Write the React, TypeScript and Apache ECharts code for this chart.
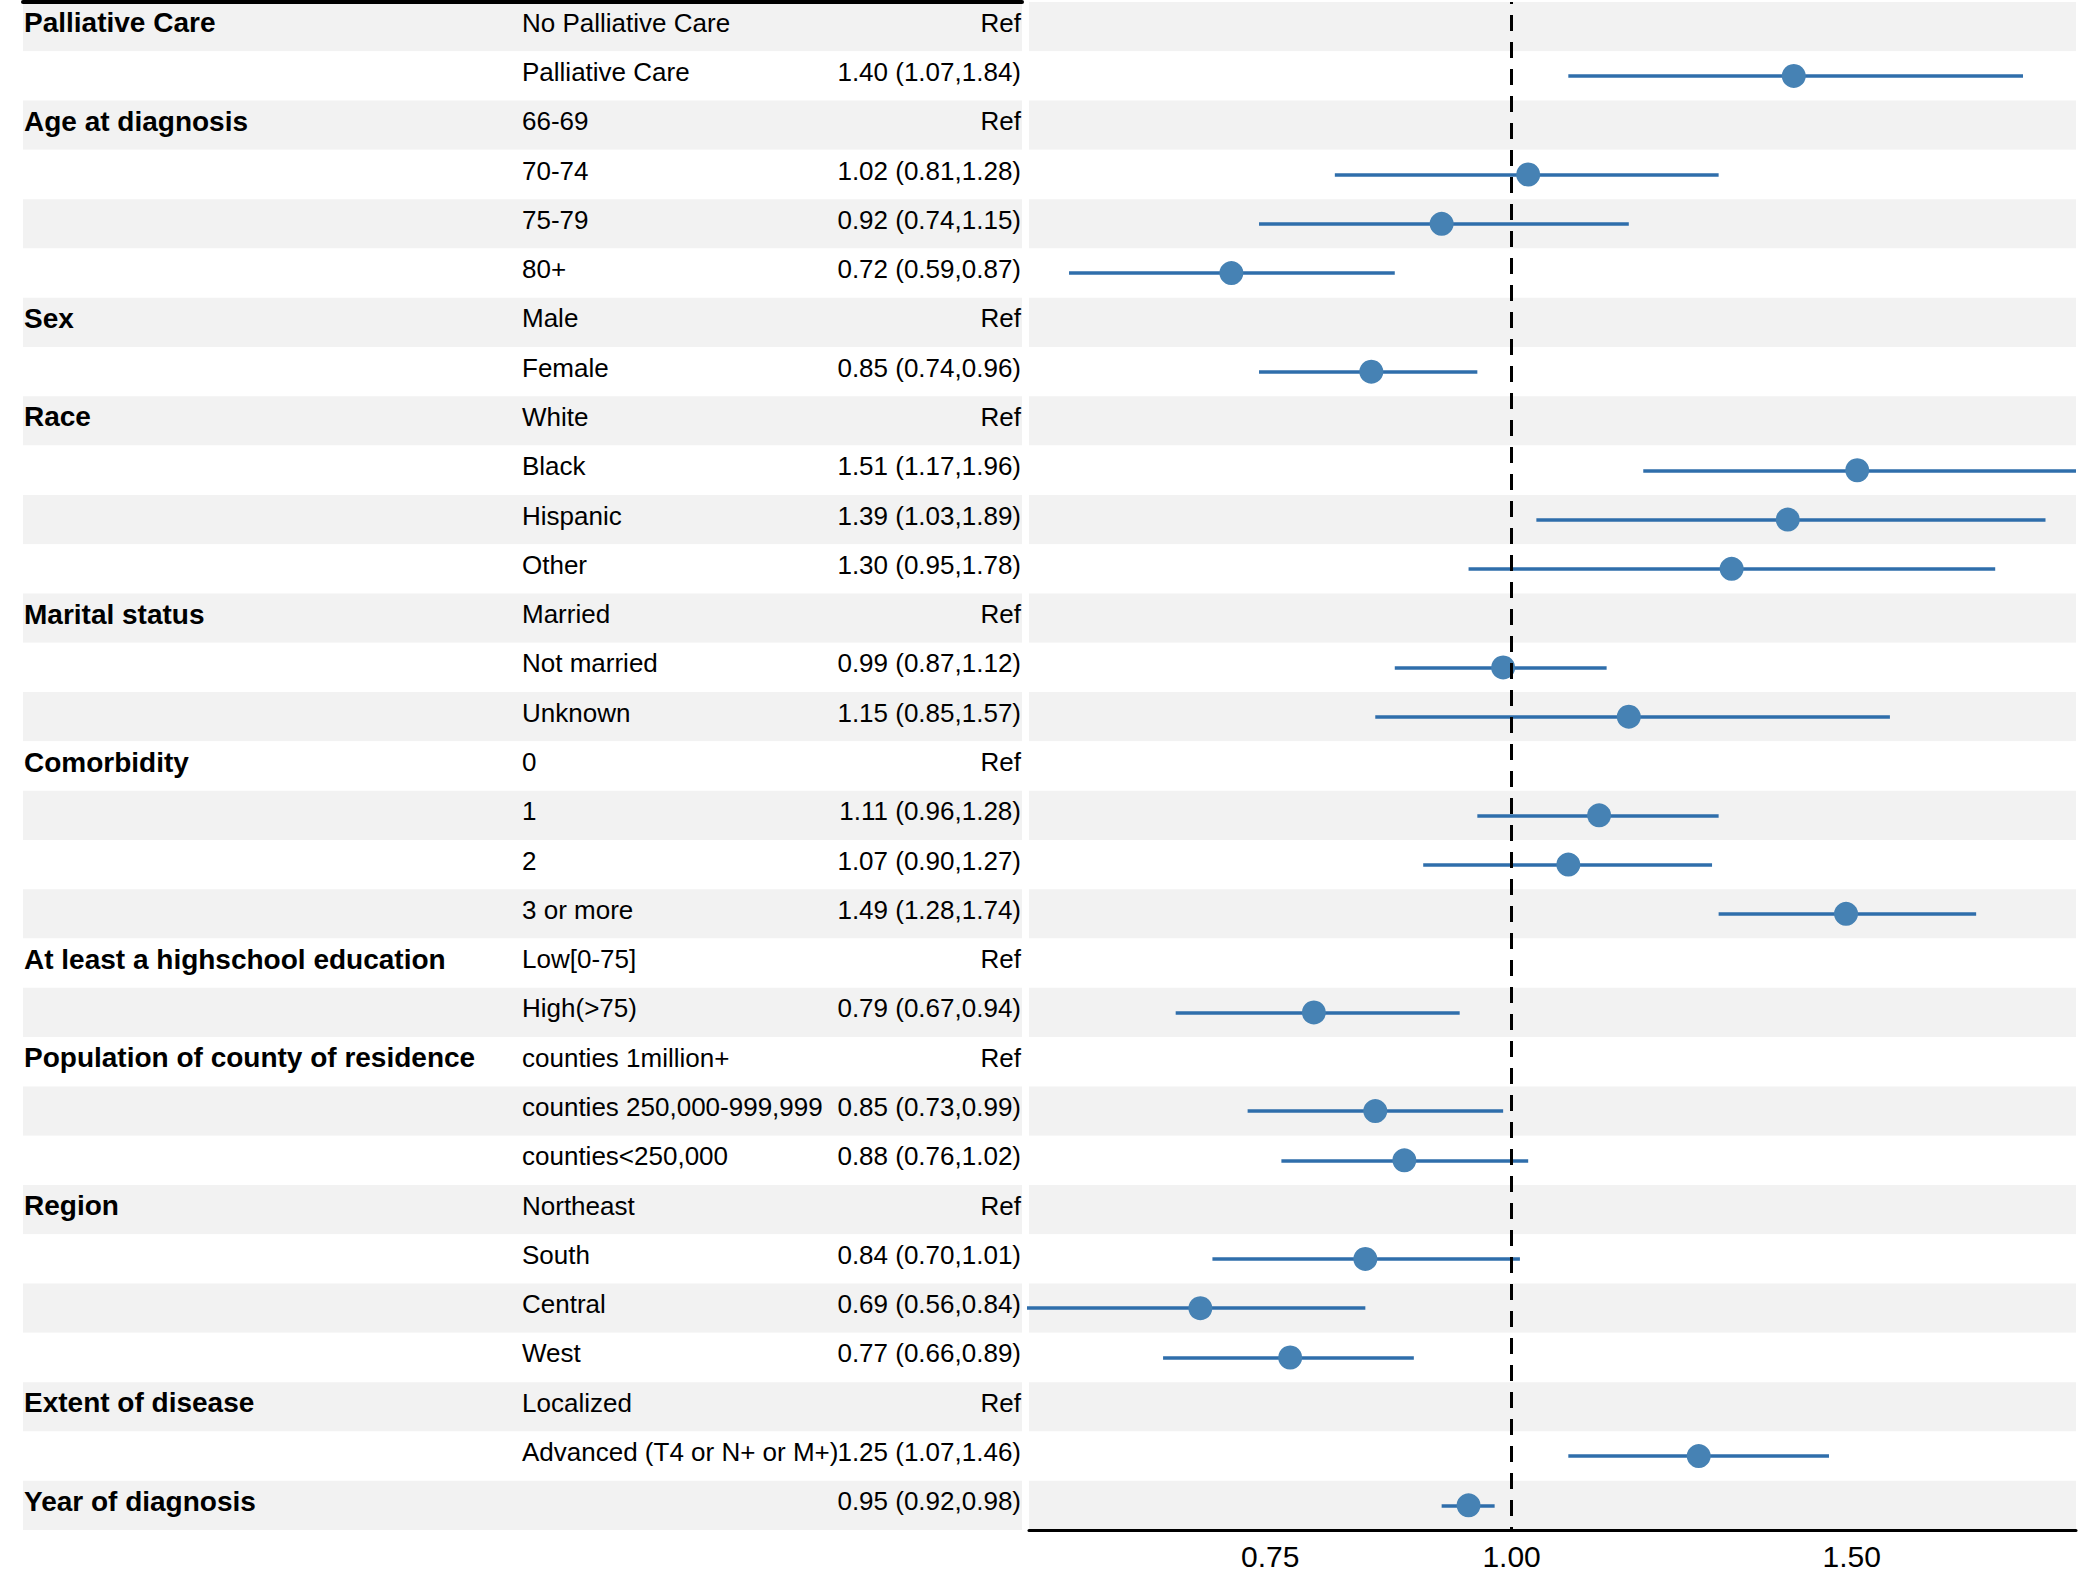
import React, { useEffect, useRef } from 'react';
import * as echarts from 'echarts';

// ---- Data (rows top to bottom) ----
const groupLabels: string[] = [
  'Palliative Care', '',
  'Age at diagnosis', '', '', '',
  'Sex', '',
  'Race', '', '', '',
  'Marital status', '', '',
  'Comorbidity', '', '', '',
  'At least a highschool education', '',
  'Population of county of residence', '', '',
  'Region', '', '', '',
  'Extent of disease', '',
  'Year of diagnosis',
];

const levelLabels: string[] = [
  'No Palliative Care', 'Palliative Care',
  '66-69', '70-74', '75-79', '80+',
  'Male', 'Female',
  'White', 'Black', 'Hispanic', 'Other',
  'Married', 'Not married', 'Unknown',
  '0', '1', '2', '3 or more',
  'Low[0-75]', 'High(>75)',
  'counties 1million+', 'counties 250,000-999,999', 'counties<250,000',
  'Northeast', 'South', 'Central', 'West',
  'Localized', 'Advanced (T4 or N+ or M+)',
  '',
];

const estimates: (number | null)[] = [
  null, 1.40,
  null, 1.02, 0.92, 0.716,
  null, 0.846,
  null, 1.51, 1.39, 1.30,
  null, 0.99, 1.15,
  null, 1.11, 1.07, 1.49,
  null, 0.79,
  null, 0.85, 0.88,
  null, 0.84, 0.69, 0.768,
  null, 1.25,
  0.95,
];

const lowerCI: (number | null)[] = [
  null, 1.07,
  null, 0.81, 0.74, 0.59,
  null, 0.74,
  null, 1.17, 1.03, 0.95,
  null, 0.87, 0.85,
  null, 0.96, 0.90, 1.28,
  null, 0.67,
  null, 0.73, 0.76,
  null, 0.70, 0.56, 0.66,
  null, 1.07,
  0.92,
];

const upperCI: (number | null)[] = [
  null, 1.84,
  null, 1.28, 1.15, 0.87,
  null, 0.96,
  null, 1.96, 1.89, 1.78,
  null, 1.12, 1.57,
  null, 1.28, 1.27, 1.74,
  null, 0.94,
  null, 0.99, 1.02,
  null, 1.01, 0.84, 0.89,
  null, 1.46,
  0.98,
];

const axisTickValues: number[] = [0.75, 1.0, 1.5];
const axisMinValue = 0.5625;
const axisMaxValue = 1.96;
const referenceValue = 1;

// ---- Styles ----
const FONT = '"Liberation Sans", Arial, Helvetica, sans-serif';
const BAND = '#f2f2f2';
const LINE_COLOR = '#2f6eab';
const DOT_COLOR = '#4682b4';

const rowIds = levelLabels.map((_, i) => String(i));

function estimateText(i: number): string {
  const e = estimates[i];
  const lo = lowerCI[i];
  const hi = upperCI[i];
  if (e == null || lo == null || hi == null) return 'Ref';
  return `${e.toFixed(2)} (${lo.toFixed(2)},${hi.toFixed(2)})`;
}

export default function App() {
  const ref = useRef<HTMLDivElement>(null);

  useEffect(() => {
    if (!ref.current) return;
    const chart = echarts.init(ref.current, undefined, { renderer: 'svg' });

    const ciData: any[] = [];
    const pointData: any[] = [];
    estimates.forEach((e, i) => {
      const lo = lowerCI[i];
      const hi = upperCI[i];
      if (e == null || lo == null || hi == null) return;
      ciData.push({ coords: [[Math.log(lo), i], [Math.log(hi), i]] });
      pointData.push([Math.log(e), i]);
    });

    const TOP = 2;
    const HEIGHT = 1528;

    const hidden = {
      axisLine: { show: false },
      axisTick: { show: false },
      splitLine: { show: false },
    };

    // text sits slightly above the row centre, as in the reference
    const textShift = { verticalAlign: 'bottom', lineHeight: 8 };

    const option: any = {
      animation: false,
      backgroundColor: '#ffffff',
      grid: [
        { left: 23, top: TOP, width: 999, height: HEIGHT },
        { left: 1029, top: TOP, width: 1047, height: HEIGHT },
      ],
      xAxis: [
        {
          gridIndex: 0,
          type: 'value',
          position: 'top',
          min: 0,
          max: 1,
          axisLine: { show: true, onZero: false, lineStyle: { color: '#000', width: 4 } },
          axisTick: { show: false },
          axisLabel: { show: false },
          splitLine: { show: false },
        },
        {
          gridIndex: 1,
          type: 'value',
          min: Math.log(axisMinValue),
          max: Math.log(axisMaxValue),
          axisLine: { show: true, onZero: false, lineStyle: { color: '#000', width: 3 } },
          axisTick: { show: false },
          splitLine: { show: false },
          axisLabel: {
            customValues: axisTickValues.map((v) => Math.log(v)),
            formatter: (v: number) => Math.exp(v).toFixed(2),
            fontSize: 30,
            color: '#000',
            fontFamily: FONT,
            margin: 11,
          },
        },
      ],
      yAxis: [
        {
          gridIndex: 0,
          type: 'category',
          data: rowIds,
          inverse: true,
          position: 'left',
          ...hidden,
          splitArea: { show: true, interval: 0, areaStyle: { color: [BAND, '#ffffff'] } },
          axisLabel: {
            interval: 0,
            inside: true,
            margin: 1,
            align: 'left',
            fontSize: 28,
            fontWeight: 'bold',
            color: '#000',
            fontFamily: FONT,
            ...textShift,
            formatter: (v: string) => groupLabels[Number(v)],
          },
        },
        {
          gridIndex: 0,
          type: 'category',
          data: rowIds,
          inverse: true,
          position: 'left',
          ...hidden,
          axisLabel: {
            interval: 0,
            inside: true,
            margin: 499,
            align: 'left',
            fontSize: 26,
            color: '#000',
            fontFamily: FONT,
            ...textShift,
            formatter: (v: string) => levelLabels[Number(v)],
          },
        },
        {
          gridIndex: 0,
          type: 'category',
          data: rowIds,
          inverse: true,
          position: 'right',
          ...hidden,
          axisLabel: {
            interval: 0,
            inside: true,
            margin: 1,
            align: 'right',
            fontSize: 26,
            color: '#000',
            fontFamily: FONT,
            ...textShift,
            formatter: (v: string) => estimateText(Number(v)),
          },
        },
        {
          gridIndex: 1,
          type: 'category',
          data: rowIds,
          inverse: true,
          ...hidden,
          axisLabel: { show: false },
          splitArea: { show: true, interval: 0, areaStyle: { color: [BAND, '#ffffff'] } },
        },
      ],
      series: [
        {
          type: 'lines',
          coordinateSystem: 'cartesian2d',
          xAxisIndex: 1,
          yAxisIndex: 3,
          z: 2,
          silent: true,
          clip: true,
          symbol: ['none', 'none'],
          lineStyle: { color: LINE_COLOR, width: 3.5, opacity: 1 },
          data: ciData,
        },
        {
          type: 'scatter',
          xAxisIndex: 1,
          yAxisIndex: 3,
          z: 3,
          silent: true,
          symbol: 'circle',
          symbolSize: 24,
          itemStyle: { color: DOT_COLOR, opacity: 1 },
          data: pointData,
          markLine: {
            silent: true,
            symbol: ['none', 'none'],
            label: { show: false },
            lineStyle: { color: '#000', width: 3, type: [16, 11], dashOffset: 14, opacity: 1 },
            data: [{ xAxis: Math.log(referenceValue) }],
          },
        },
      ],
    };

    chart.setOption(option);
    return () => chart.dispose();
  }, []);

  return (
    <div
      ref={ref}
      style={{ position: 'absolute', left: 0, top: 0, width: 2078, height: 1582 }}
    />
  );
}
